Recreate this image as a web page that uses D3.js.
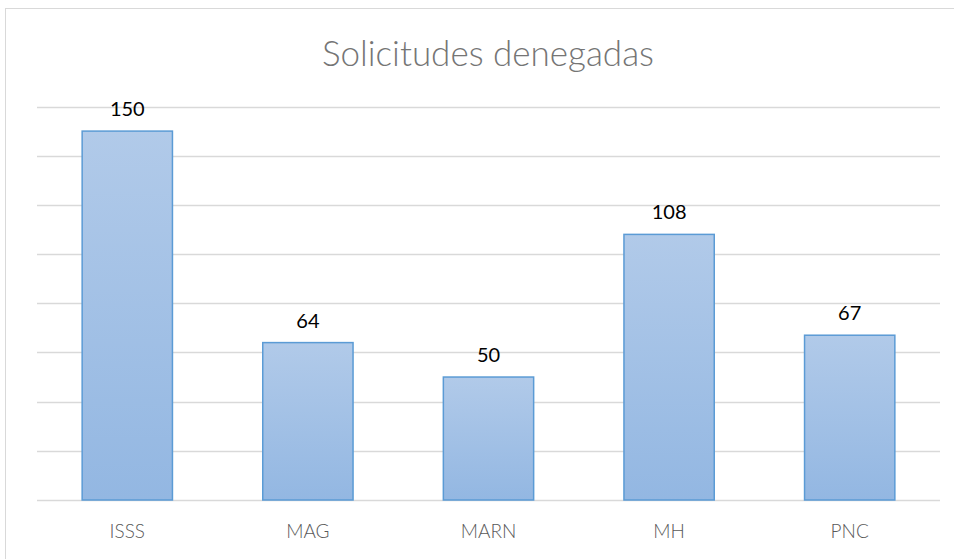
<!DOCTYPE html>
<html>
<head>
<meta charset="utf-8">
<script src="https://cdn.jsdelivr.net/npm/d3@7"></script>
<style>
  body { margin: 0; background: #fff; }
  text { font-family: Lato, "Open Sans", sans-serif; }
</style>
</head>
<body>
<svg id="chart" width="954" height="559"></svg>
<script>
var width = 954;
var height = 559;

// data
var categories = ["ISSS", "MAG", "MARN", "MH", "PNC"];
var values = [150, 64, 50, 108, 67];
var gridTicks = [0, 20, 40, 60, 80, 100, 120, 140, 160];

var svg = d3.select("#chart");

// chart frame
svg.append("rect")
    .attr("x", 5.5).attr("y", 8.5)
    .attr("width", 960).attr("height", 600)
    .attr("fill", "#fff")
    .attr("stroke", "#d9d9d9");

var x = d3.scaleBand()
    .domain(categories)
    .range([37, 940])
    .paddingInner(0.5)
    .paddingOuter(0.25);

var y = d3.scaleLinear()
    .domain([0, 160])
    .range([500, 106.5]);

var defs = svg.append("defs");
var grad = defs.append("linearGradient")
    .attr("id", "barGrad")
    .attr("x1", 0).attr("y1", 0).attr("x2", 0).attr("y2", 1);
grad.append("stop").attr("offset", "0%").attr("stop-color", "#b1cae9");
grad.append("stop").attr("offset", "100%").attr("stop-color", "#93b7e2");

// gridlines
svg.append("g")
    .selectAll("line")
    .data(gridTicks)
    .enter()
    .append("line")
    .attr("x1", 37).attr("x2", 940)
    .attr("y1", function(d) { return Math.round(y(d)) + 0.5; })
    .attr("y2", function(d) { return Math.round(y(d)) + 0.5; })
    .attr("stroke", "#d9d9d9")
    .attr("stroke-width", 1.5);

// bars
svg.append("g")
    .selectAll("rect")
    .data(values)
    .enter()
    .append("rect")
    .attr("x", function(d, i) { return x(categories[i]); })
    .attr("y", function(d) { return y(d); })
    .attr("width", x.bandwidth())
    .attr("height", function(d) { return y(0) - y(d); })
    .attr("fill", "url(#barGrad)")
    .attr("stroke", "#5b9bd5")
    .attr("stroke-width", 1.5);

// value labels
svg.append("g")
    .selectAll("text")
    .data(values)
    .enter()
    .append("text")
    .attr("x", function(d, i) { return x(categories[i]) + x.bandwidth() / 2; })
    .attr("y", function(d) { return y(d) - 15; })
    .attr("text-anchor", "middle")
    .attr("font-size", 20)
    .attr("fill", "#000")
    .text(function(d) { return d; });

// category axis
var xAxis = svg.append("g")
    .attr("transform", "translate(0,500)")
    .call(d3.axisBottom(x).tickSize(0).tickPadding(25));
xAxis.select(".domain").remove();
xAxis.selectAll("text")
    .attr("font-size", 19)
    .attr("font-weight", 300)
    .attr("fill", "#595959")
    .style("font-family", "Lato, 'Open Sans', sans-serif");

// title
svg.append("text")
    .attr("x", 488)
    .attr("y", 66)
    .attr("text-anchor", "middle")
    .attr("font-size", 35)
    .attr("font-weight", 300)
    .attr("fill", "#757575")
    .text("Solicitudes denegadas");
</script>
</body>
</html>
